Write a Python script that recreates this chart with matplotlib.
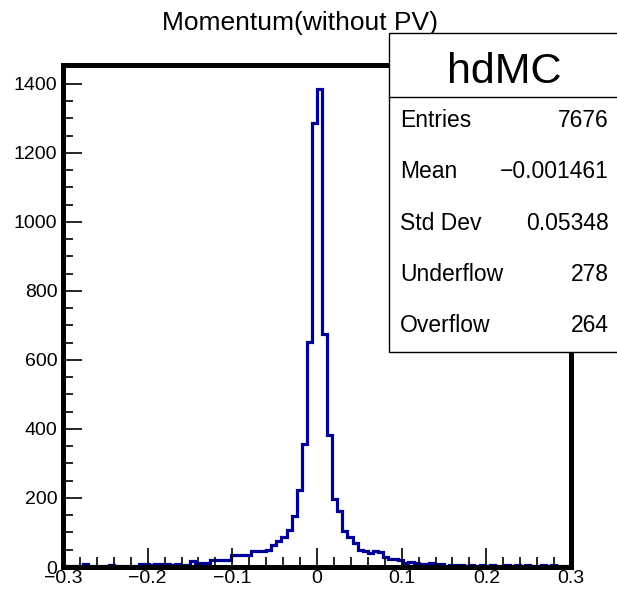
import numpy as np
import matplotlib
matplotlib.use("Agg")
from matplotlib import pyplot as plt
from matplotlib.patches import Rectangle
from matplotlib.lines import Line2D
from matplotlib.ticker import MultipleLocator, FixedLocator

plt.rcParams['font.family'] = ['Liberation Sans', 'DejaVu Sans']

# histogram: 100 bins from -0.3 to 0.3
x_min, x_max, n_bins = -0.3, 0.3, 100
counts = [
    3, 4, 3, 4, 8, 4, 3, 4, 3, 5, 3, 4, 3, 4, 3,          # 0-14
    8, 9, 7, 8, 9, 8, 7, 9, 7, 7,                         # 15-24
    16, 11, 12, 11, 19, 21, 20, 20,                       # 25-32
    35, 36, 34, 36, 46, 47, 45, 48,                       # 33-40
    65, 74, 88, 107, 147, 224, 355, 652, 1285,            # 41-49
    1385,                                                 # 50
    676, 382, 196, 163, 103, 88, 70,                      # 51-57
    50, 45, 40, 46, 44, 28, 23, 22, 21,                   # 58-66
    13, 14, 13, 9, 10, 12, 10, 9, 3, 5, 5,                # 67-77
    5, 3, 6, 4, 5, 3, 6, 4, 3, 5, 4, 6, 3, 5, 4, 3, 5, 4, 5, 3, 4, 3,  # 78-99
]
edges = np.linspace(x_min, x_max, n_bins + 1)

title = "Momentum(without PV)"
hist_name = "hdMC"
stat_names = ["Entries", "Mean", "Std Dev", "Underflow", "Overflow"]
stat_values = ["7676", "\u22120.001461", "0.05348", "278", "264"]

x_ticks = [-0.3, -0.2, -0.1, 0.0, 0.1, 0.2, 0.3]
x_tick_labels = ["\u22120.3", "\u22120.2", "\u22120.1", "0", "0.1", "0.2", "0.3"]
y_ticks = [0, 200, 400, 600, 800, 1000, 1200, 1400]

W, H = 617, 594
fig = plt.figure(figsize=(W / 100, H / 100), dpi=100)
ax = fig.add_axes([63 / W, 1 - 567 / H, (571 - 63) / W, (567 - 65) / H])

ax.stairs(counts, edges, color='#000099', linewidth=2.3, zorder=1)

ax.set_xlim(x_min, x_max)
ax.set_ylim(0, max(counts) * 1.05)

ax.xaxis.set_major_locator(FixedLocator(x_ticks))
ax.set_xticklabels(x_tick_labels)
ax.xaxis.set_minor_locator(MultipleLocator(0.02))
ax.yaxis.set_major_locator(FixedLocator(y_ticks))
ax.yaxis.set_minor_locator(MultipleLocator(50))

ax.tick_params(which='both', direction='in', top=False, right=False,
               width=1.2, colors='black', labelsize=14)
ax.tick_params(which='major', length=14)
ax.tick_params(which='minor', length=7)
ax.tick_params(axis='x', pad=2)
ax.tick_params(axis='y', pad=4)

for s in ax.spines.values():
    s.set_linewidth(3.6)

# title
fig.text(300 / W, 1 - 30 / H, title, ha='center', va='baseline', fontsize=19)

# stats box
bx0, bx1 = 389 / W, 1.2
by_top, by_bot = 1 - 33 / H, 1 - 352 / H
fig.add_artist(Rectangle((bx0, by_bot), bx1 - bx0, by_top - by_bot,
                         transform=fig.transFigure, facecolor='white',
                         edgecolor='black', linewidth=1.0, zorder=5))
fig.add_artist(Line2D([bx0, 1.0], [1 - 97 / H, 1 - 97 / H],
                      transform=fig.transFigure, color='black',
                      linewidth=1.0, zorder=6))
fig.text(504 / W, 1 - 83 / H, hist_name, ha='center', va='baseline',
         fontsize=31, zorder=7)

row_base = [127, 178, 230, 281, 332]
for name, val, yb in zip(stat_names, stat_values, row_base):
    fig.text(400 / W, 1 - yb / H, name, ha='left', va='baseline',
             fontsize=16.5, zorder=7)
    fig.text(609 / W, 1 - yb / H, val, ha='right', va='baseline',
             fontsize=16.5, zorder=7)

fig.savefig("out.png", dpi=100)
